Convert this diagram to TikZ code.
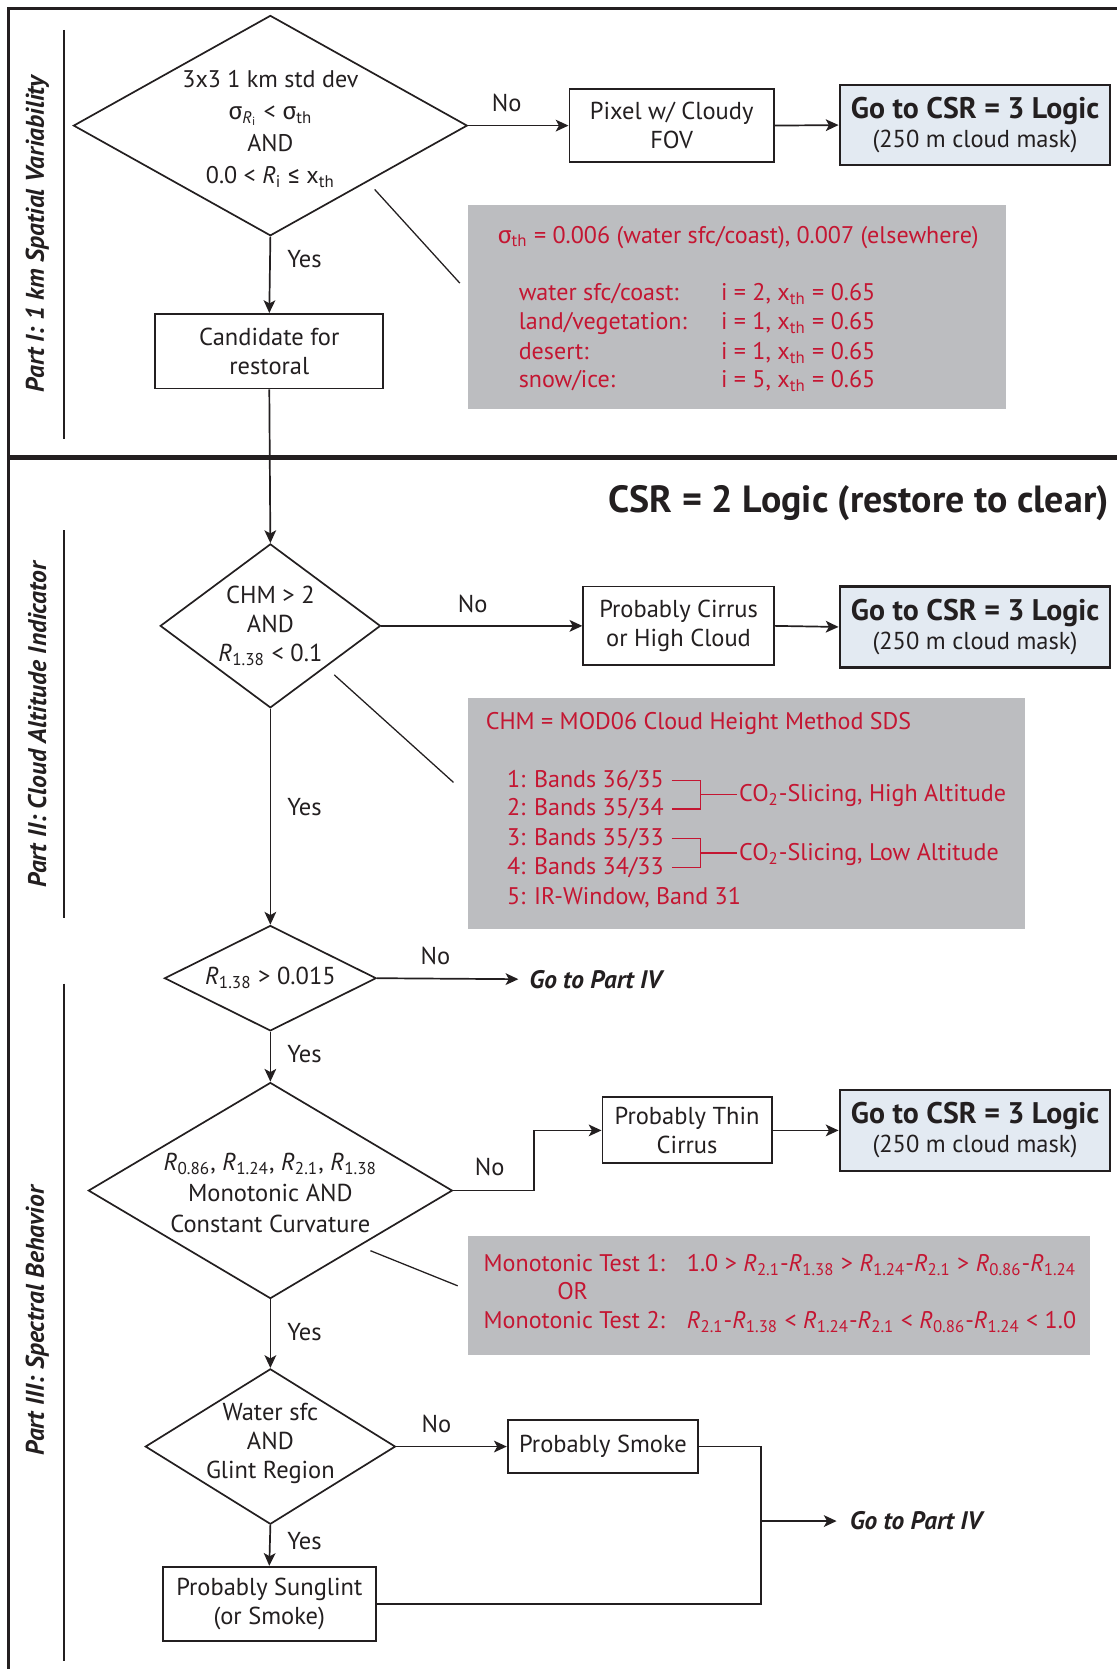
\documentclass[tikz,border=0pt]{standalone}
\usepackage{fontspec}
\setmainfont{PT Sans}
\newfontfamily\grk{Fira Sans}
\usetikzlibrary{shapes.geometric,arrows.meta}
\definecolor{lc}{RGB}{35,31,32}
\definecolor{rc}{RGB}{196,22,50}
\definecolor{gb}{RGB}{188,189,192}
\definecolor{lb}{RGB}{227,234,242}
\newcommand\fs{\fontsize{11.5}{13.5}\selectfont}
\newcommand\rfs{\fontsize{11.3}{13.5}\selectfont}
\newcommand\gotx{\fontsize{14}{15}\selectfont\bfseries}
\newcommand\Rs[1]{\textit{R}\textsubscript{#1}}
\newcommand\sig{{\grk σ}}
\newcommand\gle{{\grk ≤}}
\begin{document}
\begin{tikzpicture}[x=0.5pt,y=-0.5pt,
 box/.style={draw=lc,line width=0.9pt,fill=white,inner sep=0pt,align=center,font=\fs,text=lc},
 gobox/.style={box,fill=lb,line width=1.2pt,minimum width=127pt},
 dia/.style={draw=lc,diamond,line width=0.8pt,inner sep=0pt,fill=white},
 dtxt/.style={align=center,font=\fs,text=lc,inner sep=0pt},
 arr/.style={draw=lc,line width=0.8pt,-{Stealth[length=6pt,width=5.5pt,inset=1.5pt]}},
 conn/.style={draw=lc,line width=0.8pt},
 lab/.style={font=\fs,text=lc,inner sep=0pt},
 gray/.style={fill=gb,inner sep=0pt},
 rt/.style={font=\rfs,text=rc,inner sep=0pt,anchor=base west},
 part/.style={font=\fontsize{12}{14}\selectfont\bfseries\itshape,text=lc,rotate=90,inner sep=0pt},
 gop/.style={font=\fontsize{11.9}{13}\selectfont\bfseries\itshape,text=lc,inner sep=0pt,anchor=west},
 callout/.style={draw=lc,line width=0.6pt},
 brk/.style={draw=rc,line width=0.6pt},
 sideline/.style={draw=lc,line width=0.7pt}
]
\useasboundingbox (0,0) rectangle (1049,1568);
% frame
\coordinate (fbl) at (8,1568);
\coordinate (ftl) at (8,8);
\coordinate (ftr) at (1049,8);
\coordinate (sepl) at (8,430);
\coordinate (sepr) at (1049,430);
\draw[lc,line width=1.5pt] (fbl) -- (ftl) -- (ftr);
\draw[lc,line width=2.3pt] (sepl) -- (sepr);
% part side lines and labels
\coordinate (s1a) at (60,28); \coordinate (s1b) at (60,412);
\coordinate (s2a) at (60,498); \coordinate (s2b) at (60,862);
\coordinate (s3a) at (60,924); \coordinate (s3b) at (60,1560);
\draw[sideline] (s1a) -- (s1b);
\draw[sideline] (s2a) -- (s2b);
\draw[sideline] (s3a) -- (s3b);
\node[part] (p1) at (35,220) {Part I: 1 km Spatial Variability};
\node[part] (p2) at (35,681) {Part II: Cloud Altitude Indicator};
\node[part] (p3) at (35,1241) {Part III: Spectral Behavior};

% gray boxes
\node[gray,minimum width=252.5pt,minimum height=95.5pt] (g1) at (692.5,288.5) {};
\node[gray,minimum width=261.5pt,minimum height=108.5pt] (g2) at (701.5,764.5) {};
\node[gray,minimum width=292pt,minimum height=56pt] (g3) at (732,1217) {};

% Part I
\node[dia,minimum width=185pt,minimum height=103.5pt] (d1) at (254,118) {};
\node[dtxt,font=\fontsize{11.3}{15}\selectfont] (d1t) at (254,121) {3x3 1 km std dev\\ \sig\textsubscript{\textit{R}\textsubscript{i}} < \sig\textsubscript{th}\\AND\\0.0 < \Rs{i} \gle{} x\textsubscript{th}};
\node[box,minimum width=96pt,minimum height=34pt] (pix) at (631,118) {Pixel w/ Cloudy\\FOV};
\node[gobox,minimum height=37.5pt] (go1) at (916,117.5) {{\gotx Go to CSR = 3 Logic}\\(250 m cloud mask)};
\node[box,minimum width=107pt,minimum height=35pt] (cand) at (253,330) {Candidate for\\restoral};
\draw[arr] (d1.east) -- (pix.west);
\node[lab] (n1) at (476,97) {No};
\draw[arr] (pix.east) -- (go1.west);
\draw[arr] (d1.south) -- (cand.north);
\node[lab] (y1) at (286,243) {Yes};
\coordinate (c1a) at (352,178); \coordinate (c1b) at (432,266);
\draw[callout] (c1a) -- (c1b);
\node[rt] (g1t) at (467,228.5) {\sig\textsubscript{th} = 0.006 (water sfc/coast), 0.007 (elsewhere)};
\node[rt] (g1a) at (487,282.5) {water sfc/coast:};
\node[rt] (g1b) at (487,309.5) {land/vegetation:};
\node[rt] (g1c) at (487,337.5) {desert:};
\node[rt] (g1d) at (487,364.5) {snow/ice:};
\node[rt] (g1e) at (677,282.5) {i = 2, x\textsubscript{th} = 0.65};
\node[rt] (g1f) at (677,309.5) {i = 1, x\textsubscript{th} = 0.65};
\node[rt] (g1g) at (677,337.5) {i = 1, x\textsubscript{th} = 0.65};
\node[rt] (g1h) at (677,364.5) {i = 5, x\textsubscript{th} = 0.65};

% title
\node[font=\fontsize{17.8}{20}\selectfont\bfseries,text=lc,inner sep=0pt,anchor=east] (title) at (1042,473) {CSR = 2 Logic (restore to clear)};

% Part II
\node[dia,minimum width=103.5pt,minimum height=77pt] (d2) at (254,588) {};
\node[dtxt] (d2t) at (254,588) {CHM > 2\\AND\\\Rs{1.38} < 0.1};
\node[box,minimum width=89.5pt,minimum height=37pt] (cir) at (637.5,588) {Probably Cirrus\\or High Cloud};
\node[gobox,minimum height=38pt] (go2) at (916,589) {{\gotx Go to CSR = 3 Logic}\\(250 m cloud mask)};
\draw[arr] (cand.south) -- (d2.north);
\draw[arr] (d2.east) -- (cir.west);
\node[lab] (n2) at (444,567) {No};
\draw[arr] (cir.east) -- (go2.west);
\coordinate (c2a) at (314,634); \coordinate (c2b) at (426,735);
\draw[callout] (c2a) -- (c2b);
\node[rt] (g2t) at (456,685.5) {CHM = MOD06 Cloud Height Method SDS};
\node[rt] (g2a) at (476,739.5) {1: Bands 36/35};
\node[rt] (g2b) at (476,766.5) {2: Bands 35/34};
\node[rt] (g2c) at (476,794.5) {3: Bands 35/33};
\node[rt] (g2d) at (476,821.5) {4: Bands 34/33};
\node[rt] (g2e) at (476,849.5) {5: IR-Window, Band 31};
\coordinate (b1a) at (631,733); \coordinate (b1b) at (658,733);
\coordinate (b1c) at (658,760); \coordinate (b1d) at (631,760);
\coordinate (b1m) at (658,746.5); \coordinate (b1e) at (692,746.5);
\draw[brk] (b1a) -- (b1b) -- (b1c) -- (b1d);
\draw[brk] (b1m) -- (b1e);
\coordinate (b2a) at (631,788); \coordinate (b2b) at (658,788);
\coordinate (b2c) at (658,815); \coordinate (b2d) at (631,815);
\coordinate (b2m) at (658,801.5); \coordinate (b2e) at (692,801.5);
\draw[brk] (b2a) -- (b2b) -- (b2c) -- (b2d);
\draw[brk] (b2m) -- (b2e);
\node[rt] (g2f) at (694,753) {CO\textsubscript{2}-Slicing, High Altitude};
\node[rt] (g2g) at (694,808) {CO\textsubscript{2}-Slicing, Low Altitude};

% Part III
\node[dia,minimum width=99.5pt,minimum height=49.5pt] (d3) at (254,919) {};
\node[dtxt] (d3t) at (254,919) {\Rs{1.38} > 0.015};
\draw[arr] (d2.south) -- (d3.north);
\node[lab] (y2) at (286,758) {Yes};
\node[gop] (gp1) at (497,920) {Go to Part IV};
\draw[arr,shorten >=5pt] (d3.east) -- (gp1.west);
\node[lab] (n3) at (409,898) {No};

\node[dia,minimum width=171pt,minimum height=101.5pt] (d4) at (254,1118.5) {};
\node[dtxt,font=\fontsize{11.5}{14.5}\selectfont] (d4t) at (254,1121) {\Rs{0.86}, \Rs{1.24}, \Rs{2.1}, \Rs{1.38}\\Monotonic AND\\Constant Curvature};
\draw[arr] (d3.south) -- (d4.north);
\node[lab] (y3) at (286,990) {Yes};
\node[box,minimum width=79.5pt,minimum height=31pt] (thin) at (645.5,1062) {Probably Thin\\Cirrus};
\node[gobox,minimum height=38pt] (go3) at (916,1062) {{\gotx Go to CSR = 3 Logic}\\(250 m cloud mask)};
\draw[arr] (d4.east) -- ++(76,0) |- (thin.west);
\node[lab] (n4) at (460,1096) {No};
\draw[arr] (thin.east) -- (go3.west);
\coordinate (c3a) at (348,1175); \coordinate (c3b) at (430,1208);
\draw[callout] (c3a) -- (c3b);
\node[rt] (g3a) at (454,1194.5) {Monotonic Test 1:};
\node[rt] (g3b) at (645,1194.5) {1.0 > \Rs{2.1}-\Rs{1.38} > \Rs{1.24}-\Rs{2.1} > \Rs{0.86}-\Rs{1.24}};
\node[rt,anchor=base] (g3c) at (538,1220.5) {OR};
\node[rt] (g3d) at (454,1248.5) {Monotonic Test 2:};
\node[rt] (g3e) at (645,1248.5) {\Rs{2.1}-\Rs{1.38} < \Rs{1.24}-\Rs{2.1} < \Rs{0.86}-\Rs{1.24} < 1.0};

\node[dia,minimum width=117.5pt,minimum height=73pt] (d5) at (254,1359) {};
\node[dtxt] (d5t) at (254,1356) {Water sfc\\AND\\Glint Region};
\draw[arr] (d4.south) -- (d5.north);
\node[lab] (y4) at (286,1251) {Yes};
\node[box,minimum width=89.5pt,minimum height=25pt] (smoke) at (566.5,1359) {Probably Smoke};
\draw[arr] (d5.east) -- (smoke.west);
\node[lab] (n5) at (410,1338) {No};
\node[box,minimum width=100pt,minimum height=35pt] (sun) at (253,1507) {Probably Sunglint\\(or Smoke)};
\draw[arr] (d5.south) -- (sun.north);
\node[lab] (y5) at (286,1448) {Yes};
\coordinate (jn) at (715,1507);
\coordinate (jm) at (715,1429);
\draw[conn] (smoke.east) -| (jn) -- (sun.east);
\node[gop] (gp2) at (798,1429) {Go to Part IV};
\draw[arr,shorten >=6pt] (jm) -- (gp2.west);
\end{tikzpicture}
\end{document}
